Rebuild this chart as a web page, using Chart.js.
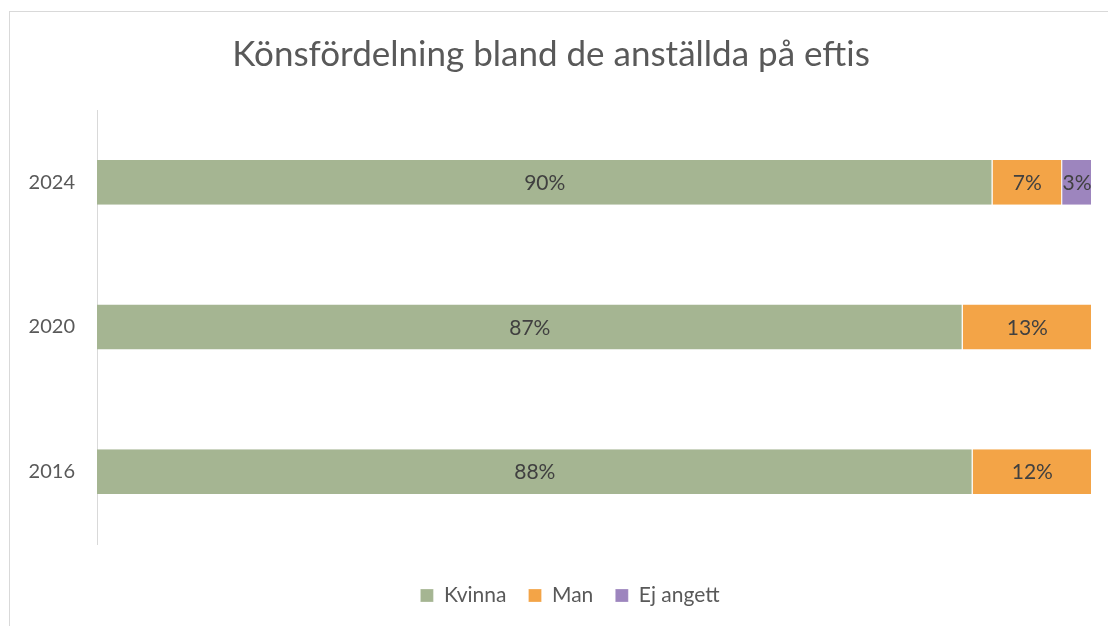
<!DOCTYPE html>
<html>
<head>
<meta charset="utf-8">
<script src="https://cdn.jsdelivr.net/npm/chart.js@4"></script>
<style>
  html, body { margin: 0; padding: 0; background: #fff; }
  #wrap { position: relative; width: 1108px; height: 626px; }
  #frame { position: absolute; left: 9px; top: 11px; width: 1200px; height: 700px; border-left: 1px solid #d9d9d9; border-top: 1px solid #d9d9d9; }
  canvas { position: absolute; left: 0; top: 0; }
</style>
</head>
<body>
<div id="wrap">
  <div id="frame"></div>
  <canvas id="chart" width="1108" height="626"></canvas>
</div>
<script>
// values
const years = ['2024', '2020', '2016'];
const kvinna = [90, 87, 88];
const man = [7, 13, 12];
const ejAngett = [3, 0, 0];

const textColor = '#595959';
const fontFamily = 'Lato, "Open Sans", sans-serif';

// draws the percent labels in the middle of each segment
const segmentLabels = {
  id: 'segmentLabels',
  afterLayout(chart) {
    // legend sits a bit right of centre in the original
    chart.legend.left += 19;
    chart.legend.right += 19;
  },
  afterDatasetsDraw(chart) {
    const ctx = chart.ctx;
    ctx.save();
    ctx.font = '21px ' + fontFamily;
    ctx.fillStyle = '#404040';
    ctx.textAlign = 'center';
    ctx.textBaseline = 'middle';
    chart.data.datasets.forEach((ds, i) => {
      const meta = chart.getDatasetMeta(i);
      meta.data.forEach((bar, j) => {
        const v = ds.data[j];
        if (!v) return;
        const p = bar.getCenterPoint();
        ctx.fillText(v + '%', p.x, p.y + 1);
      });
    });
    ctx.restore();
  }
};

new Chart(document.getElementById('chart'), {
  type: 'bar',
  data: {
    labels: years,
    datasets: [
      { label: 'Kvinna', data: kvinna, backgroundColor: '#a5b592' },
      { label: 'Man', data: man, backgroundColor: '#f3a447' },
      { label: 'Ej angett', data: ejAngett, backgroundColor: '#9d85be' }
    ]
  },
  options: {
    indexAxis: 'y',
    responsive: false,
    animation: false,
    layout: { padding: { left: 10, right: 16, top: 20, bottom: 10 } },
    datasets: {
      bar: {
        categoryPercentage: 0.31,
        barPercentage: 1,
        borderColor: '#ffffff',
        borderWidth: { right: 1 },
        borderSkipped: false
      }
    },
    scales: {
      x: {
        stacked: true,
        min: 0,
        max: 100,
        grid: { display: false, drawTicks: false },
        border: { display: false },
        ticks: { display: false },
        afterFit(scale) { scale.height = 19; }
      },
      y: {
        stacked: true,
        grid: { display: false, drawTicks: false },
        border: { display: true, color: '#d9d9d9', width: 1 },
        ticks: { color: textColor, font: { family: fontFamily, size: 20 }, padding: 22 },
        afterFit(scale) { scale.width = 87; }
      }
    },
    plugins: {
      title: {
        display: true,
        text: 'Könsfördelning bland de anställda på eftis',
        color: textColor,
        font: { family: fontFamily, size: 35, weight: 'normal' },
        padding: { top: 14, bottom: 34 }
      },
      legend: {
        position: 'bottom',
        labels: {
          color: textColor,
          font: { family: fontFamily, size: 21 },
          boxWidth: 13,
          boxHeight: 13,
          padding: 22
        }
      },
      tooltip: { enabled: false }
    }
  },
  plugins: [segmentLabels]
});
</script>
</body>
</html>
